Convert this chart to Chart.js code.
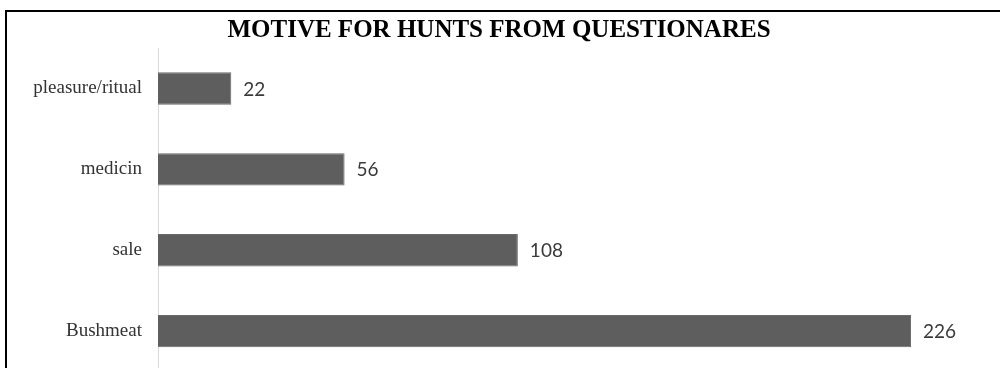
<!DOCTYPE html>
<html>
<head>
<meta charset="utf-8">
<script src="https://cdn.jsdelivr.net/npm/chart.js@4/dist/chart.umd.min.js"></script>
<style>
  html, body { margin: 0; padding: 0; background: #fff; overflow: hidden; }
  body { width: 1000px; height: 368px; position: relative; }
  #frame {
    position: absolute; left: 5px; top: 10px; width: 995px; height: 400px;
    border-left: 2px solid #000; border-top: 2px solid #000; box-sizing: border-box;
  }
  #motiveChart { position: absolute; left: 0; top: 0; }
</style>
</head>
<body>
<div id="frame"><canvas id="motiveChart" width="993" height="387"></canvas></div>
<script>
const categories = ['pleasure/ritual', 'medicin', 'sale', 'Bushmeat'];
const motiveCounts = [22, 56, 108, 226];
const chartTitle = 'MOTIVE FOR HUNTS FROM QUESTIONARES';

// writes the count just past the end of each bar
const barValues = {
    id: 'barValues',
    afterDatasetsDraw(chart) {
        const ctx = chart.ctx;
        const meta = chart.getDatasetMeta(0);
        ctx.save();
        ctx.font = '19px Lato';
        ctx.fillStyle = '#3a3a3a';
        ctx.textAlign = 'left';
        ctx.textBaseline = 'middle';
        meta.data.forEach((bar, i) => {
            ctx.fillText(String(motiveCounts[i]), bar.x + 12, bar.y + 1);
        });
        ctx.restore();
    }
};

const ctx = document.getElementById('motiveChart');
const motiveChart = new Chart(ctx, {
    type: 'bar',
    data: {
        labels: categories,
        datasets: [{
            data: motiveCounts,
            backgroundColor: '#5e5e5e',
            borderColor: '#6a6a6a',
            borderWidth: 1,
            categoryPercentage: 1,
            barPercentage: 0.4
        }]
    },
    options: {
        indexAxis: 'y',
        responsive: false,
        animation: false,
        layout: { padding: { left: 0, right: 9, top: 0, bottom: 0 } },
        plugins: {
            legend: { display: false },
            tooltip: { enabled: false },
            title: {
                display: true,
                text: chartTitle,
                color: '#000',
                font: { family: 'Liberation Serif', size: 25, weight: 'bold', lineHeight: 1 },
                padding: { top: 6, bottom: 5 }
            }
        },
        scales: {
            x: {
                display: false,
                min: 0,
                max: 250
            },
            y: {
                grid: { display: false, drawTicks: false },
                border: { display: true, color: '#d9d9d9', width: 1 },
                ticks: {
                    color: '#333',
                    padding: 16,
                    font: { family: 'Liberation Serif', size: 19 }
                },
                afterFit(scale) { scale.width = 151; }
            }
        }
    },
    plugins: [barValues]
});
</script>
</body>
</html>
